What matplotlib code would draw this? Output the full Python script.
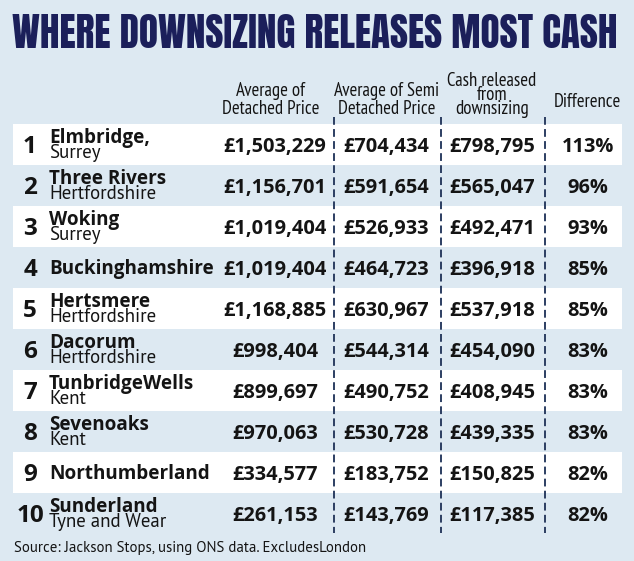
import matplotlib
matplotlib.use("Agg")
import matplotlib.pyplot as plt

# ---------------- data ----------------
title = "WHERE DOWNSIZING RELEASES MOST CASH"
headers = [["Average of", "Detached Price"],
           ["Average of Semi", "Detached Price"],
           ["Cash released", "from", "downsizing"],
           ["Difference"]]
ranks = [1, 2, 3, 4, 5, 6, 7, 8, 9, 10]
names = ["Elmbridge,", "Three Rivers", "Woking", "Buckinghamshire", "Hertsmere",
         "Dacorum", "TunbridgeWells", "Sevenoaks", "Northumberland", "Sunderland"]
counties = ["Surrey", "Hertfordshire", "Surrey", "", "Hertfordshire",
            "Hertfordshire", "Kent", "Kent", "", "Tyne and Wear"]
detached = [1503229, 1156701, 1019404, 1019404, 1168885, 998404, 899697, 970063, 334577, 261153]
semi = [704434, 591654, 526933, 464723, 630967, 544314, 490752, 530728, 183752, 143769]
cash = [798795, 565047, 492471, 396918, 537918, 454090, 408945, 439335, 150825, 117385]
difference = [113, 96, 93, 85, 85, 83, 83, 83, 82, 82]
source = "Source: Jackson Stops, using ONS data. ExcludesLondon"

# ---------------- style ----------------
BG = "#dde9f2"
NAVY = "#1b1f5a"
TXT = "#141414"
DASH = "#2c3e62"
TITLE_FONT = ["Anton", "Oswald", "DejaVu Sans"]
BOLD_FONT = ["Open Sans", "DejaVu Sans"]
REG_FONT = ["PT Sans", "Open Sans", "DejaVu Sans"]
HEAD_FONT = ["PT Sans Narrow", "PT Sans", "Open Sans", "DejaVu Sans"]

W, H = 634, 561
fig = plt.figure(figsize=(W / 100, H / 100), dpi=100, facecolor=BG)
ax = fig.add_axes([0, 0, 1, 1])
ax.set_xlim(0, W)
ax.set_ylim(H, 0)
ax.axis("off")
ax.set_facecolor(BG)
renderer = fig.canvas.get_renderer()


def fit(text, target, **kw):
    t = ax.text(0, 0, text, fontsize=10, **kw)
    w = t.get_window_extent(renderer).width
    t.remove()
    return 10 * target / w


# title
ts = fit(title, 603, family=TITLE_FONT)
ax.text(12, 48, title, fontsize=ts, family=TITLE_FONT, color=NAVY,
        ha="left", va="baseline")

# headers
hs = fit("Detached Price", 97, family=HEAD_FONT)
head_x = [271, 387, 492, 587]
head_base = [[96, 114], [96, 114], [86, 100, 114], [107]]
for hx, lines, bases in zip(head_x, headers, head_base):
    for ln, by in zip(lines, bases):
        ax.text(hx, by, ln, fontsize=hs, family=HEAD_FONT, color=TXT,
                ha="center", va="baseline")

# sizes
name_fs = fit("Buckinghamshire", 165, family=BOLD_FONT, weight="bold")
sub_fs = fit("Hertfordshire", 108, family=REG_FONT)
val_fs = fit("£1,168,885", 103, family=BOLD_FONT, weight="bold")
rank_fs = 17.5

row_top0, row_h = 124, 41
left, right = 13, 622
col_x = [275, 386, 492, 588]

for i, r in enumerate(ranks):
    T = row_top0 + i * row_h
    if i % 2 == 0:
        ax.add_patch(plt.Rectangle((left, T), right - left, row_h,
                                   facecolor="white", edgecolor="none", zorder=0))
    ax.text(30, T + 29, str(r), fontsize=rank_fs, family=BOLD_FONT, weight="bold",
            color=TXT, ha="center", va="baseline")
    if counties[i]:
        ax.text(49, T + 19, names[i], fontsize=name_fs, family=BOLD_FONT,
                weight="bold", color=TXT, ha="left", va="baseline")
        ax.text(49, T + 34, counties[i], fontsize=sub_fs, family=REG_FONT,
                color=TXT, ha="left", va="baseline")
    else:
        ax.text(49, T + 27, names[i], fontsize=name_fs, family=BOLD_FONT,
                weight="bold", color=TXT, ha="left", va="baseline")
    vals = ["£{:,}".format(detached[i]), "£{:,}".format(semi[i]),
            "£{:,}".format(cash[i]), "{}%".format(difference[i])]
    for cx, v in zip(col_x, vals):
        ax.text(cx, T + 28, v, fontsize=val_fs, family=BOLD_FONT, weight="bold",
                color=TXT, ha="center", va="baseline")

# dashed separators
for dx in [334, 441, 545]:
    ax.plot([dx, dx], [117, 533], color=DASH, lw=1.4,
            linestyle=(0, (4.0, 2.2)), solid_capstyle="butt", zorder=3)

# source
ss = fit(source, 351, family=REG_FONT)
ax.text(14, 552, source, fontsize=ss, family=REG_FONT, color=TXT,
        ha="left", va="baseline")

fig.savefig("out.png", dpi=100, facecolor=BG)
